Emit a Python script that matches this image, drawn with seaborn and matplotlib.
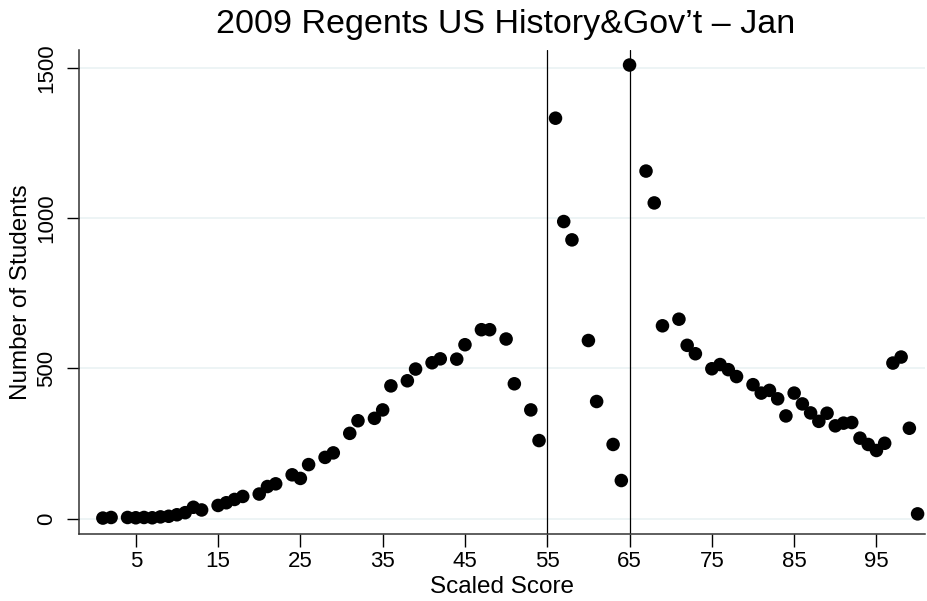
import matplotlib
matplotlib.use("Agg")
import matplotlib.pyplot as plt
import seaborn as sns
import pandas as pd

# scaled scores and counts
scores = [1, 2, 4, 5, 6, 7, 8, 9, 10, 11, 12, 13, 15, 16, 17, 18, 20, 21, 22,
          24, 25, 26, 28, 29, 31, 32, 34, 35, 36, 38, 39, 41, 42, 44, 45, 47,
          48, 50, 51, 53, 54, 56, 57, 58, 60, 61, 63, 64, 65, 67, 68, 69, 71,
          72, 73, 75, 76, 77, 78, 80, 81, 82, 83, 84, 85, 86, 87, 88, 89, 90,
          91, 92, 93, 94, 95, 96, 97, 98, 99, 100]
students = [2, 4, 4, 3, 4, 3, 6, 8, 13, 20, 38, 29, 44, 53, 64, 74, 82, 107,
            116, 146, 134, 180, 204, 219, 284, 326, 334, 362, 442, 459, 498,
            519, 532, 531, 579, 629, 629, 598, 449, 362, 260, 1333, 989, 928,
            593, 390, 247, 127, 1510, 1157, 1051, 642, 664, 577, 549, 499, 513,
            496, 473, 446, 418, 427, 399, 342, 418, 382, 352, 324, 351, 309,
            318, 320, 268, 247, 227, 251, 518, 538, 301, 16]

cut_scores = [55, 65]
x_ticks = [5, 15, 25, 35, 45, 55, 65, 75, 85, 95]
y_ticks = [0, 500, 1000, 1500]

TITLE = "2009 Regents US History&Gov\u2019t \u2013 Jan"

sns.set_style("white")
plt.rcParams["font.family"] = ["Liberation Sans", "DejaVu Sans"]
plt.rcParams.update({"text.color": "black", "axes.labelcolor": "black",
                     "xtick.color": "black", "ytick.color": "black"})

df = pd.DataFrame({"score": scores, "n": students})

fig = plt.figure(figsize=(9.28, 6.01), dpi=100)
ax = fig.add_axes([79 / 928, 67 / 601, (925 - 79) / 928, (534 - 50) / 601])

for yv in y_ticks:
    ax.axhline(yv, color="#eaf2f3", lw=1.2, zorder=0)
for xv in cut_scores:
    ax.axvline(xv, color="black", lw=0.9, zorder=1)

sns.scatterplot(data=df, x="score", y="n", ax=ax, color="black", s=95,
                edgecolor="none", zorder=3, legend=False)

ax.set_xlim(-1.9, 100.9)
ax.set_ylim(-51, 1560)
ax.set_xticks(x_ticks)
ax.set_yticks(y_ticks)
ax.set_yticklabels([str(v) for v in y_ticks], rotation=90, va="center")
ax.tick_params(axis="both", direction="out", length=9, width=1,
               labelsize=16, bottom=True, left=True)
ax.tick_params(axis="x", pad=3)
ax.tick_params(axis="y", pad=7)

for side in ("top", "right"):
    ax.spines[side].set_visible(False)
for side in ("left", "bottom"):
    ax.spines[side].set_color("#333333")
    ax.spines[side].set_linewidth(1.1)

ax.set_xlabel("Scaled Score", fontsize=17.5, labelpad=3)
ax.set_ylabel("Number of Students", fontsize=17.5, labelpad=3)
fig.text(506 / 928, 1 - 24 / 601, TITLE, ha="center", va="center",
         fontsize=24.5)

fig.savefig("out.png", dpi=100)
